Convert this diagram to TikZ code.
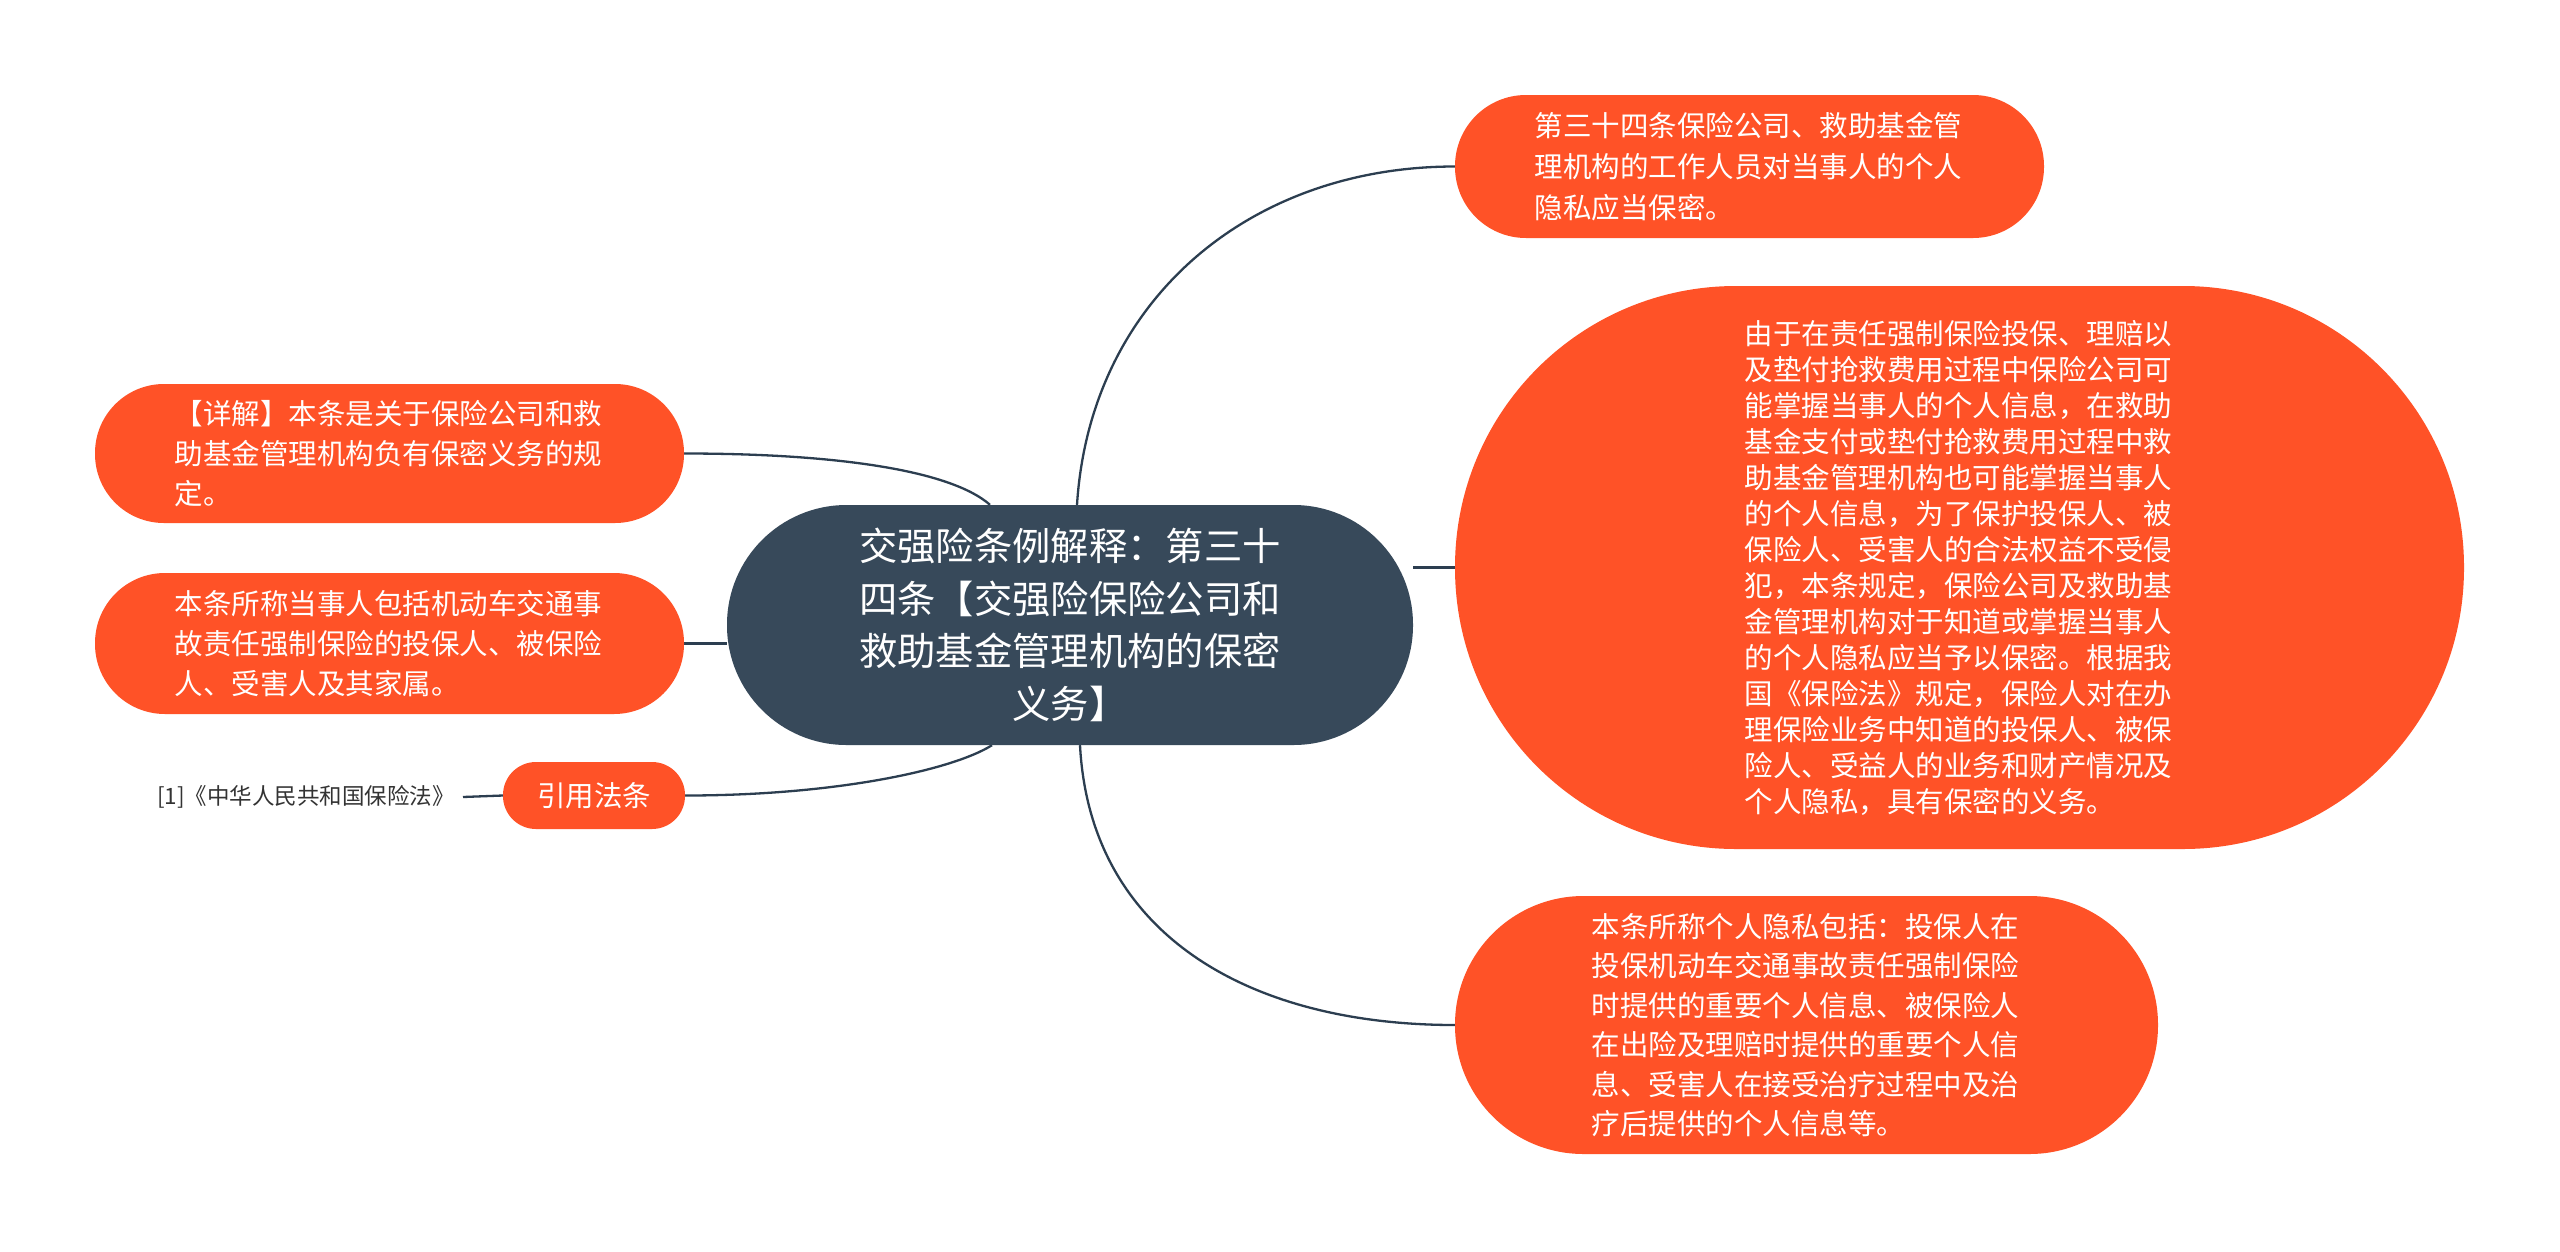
\documentclass[tikz,border=0pt]{standalone}
\usepackage{fontspec}
\setmainfont{Noto Sans CJK SC}
\usetikzlibrary{calc}
\definecolor{orangeF}{HTML}{FF5227}
\definecolor{darkF}{HTML}{37495A}
\definecolor{connC}{HTML}{2C3E50}
\definecolor{leafT}{HTML}{333333}
\pgfdeclarelayer{background}
\pgfsetlayers{background,main}
\tikzset{
  mainbox/.style={rectangle, fill=darkF, text=white, inner sep=0pt, align=center,
    minimum width=686pt, minimum height=240pt, rounded corners=119.5pt, text width=432pt,
    font=\fontsize{38.3pt}{52.7pt}\selectfont},
  topicbox/.style={rectangle, fill=orangeF, text=white, inner sep=0pt, align=left, text width=430pt},
  smallbox/.style={rectangle, fill=orangeF, text=white, inner sep=0pt, align=center,
    font=\fontsize{28.5pt}{36pt}\selectfont},
  conn/.style={draw=connC, line width=2.3pt},
  leaftext/.style={text=leafT, inner xsep=8pt, inner ysep=0pt, anchor=east,
    font=\fontsize{22.5pt}{27pt}\selectfont}
}
\begin{document}
\begin{tikzpicture}[x=1pt,y=-1pt]
\useasboundingbox (0,0) rectangle (2560,1251);

% central
\node[mainbox] (c) at (1070,625) {交强险条例解释：第三十\\四条【交强险保险公司和\\救助基金管理机构的保密\\义务】};

% right
\node[topicbox, minimum width=589pt, minimum height=143pt, rounded corners=71pt,
  font=\fontsize{28.5pt}{41pt}\selectfont] (r1) at (1749.5,166.5)
  {第三十四条保险公司、救助基金管\\理机构的工作人员对当事人的个人\\隐私应当保密。};
\node[topicbox, minimum width=1009pt, minimum height=563pt, rounded corners=281pt,
  font=\fontsize{28.5pt}{36pt}\selectfont] (r2) at (1959.5,567.5)
  {由于在责任强制保险投保、理赔以\\及垫付抢救费用过程中保险公司可\\能掌握当事人的个人信息，在救助\\基金支付或垫付抢救费用过程中救\\助基金管理机构也可能掌握当事人\\的个人信息，为了保护投保人、被\\保险人、受害人的合法权益不受侵\\犯，本条规定，保险公司及救助基\\金管理机构对于知道或掌握当事人\\的个人隐私应当予以保密。根据我\\国《保险法》规定，保险人对在办\\理保险业务中知道的投保人、被保\\险人、受益人的业务和财产情况及\\个人隐私，具有保密的义务。};
\node[topicbox, minimum width=703pt, minimum height=258pt, rounded corners=128.5pt,
  font=\fontsize{28.5pt}{39.5pt}\selectfont] (r3) at (1806.5,1025)
  {本条所称个人隐私包括：投保人在\\投保机动车交通事故责任强制保险\\时提供的重要个人信息、被保险人\\在出险及理赔时提供的重要个人信\\息、受害人在接受治疗过程中及治\\疗后提供的个人信息等。};

% left
\node[topicbox, minimum width=589pt, minimum height=139pt, rounded corners=69pt,
  font=\fontsize{28.5pt}{40pt}\selectfont] (l1) at (389.5,453.5)
  {【详解】本条是关于保险公司和救\\助基金管理机构负有保密义务的规\\定。};
\node[topicbox, minimum width=589pt, minimum height=141pt, rounded corners=70pt,
  font=\fontsize{28.5pt}{40pt}\selectfont] (l2) at (389.5,643.5)
  {本条所称当事人包括机动车交通事\\故责任强制保险的投保人、被保险\\人、受害人及其家属。};
\node[smallbox, minimum width=182pt, minimum height=67pt, rounded corners=33pt] (l3) at (594,795.5) {引用法条};
\node[leaftext] (leaf) at (463,797) {[1]《中华人民共和国保险法》};

% connectors (behind the nodes)
\begin{pgfonlayer}{background}
\fill[white] (0,0) rectangle (2560,1251);
\draw[conn] ($(c.north)+(7,0)$) .. controls +(13,-205) and +(-205,0) .. (r1.west);
\draw[conn] (r2.west) -- (r2.west -| c.east);
\draw[conn] ($(c.south)+(10,0)$) .. controls +(10,190) and +(-205,0) .. (r3.west);
\draw[conn] ($(c.north)+(-80,0)$) .. controls +(-40,-35) and +(150,0) .. (l1.east);
\draw[conn] (l2.east) -- (l2.east -| c.west);
\draw[conn] ($(c.south)+(-78,0)$) .. controls +(-40,25) and +(150,0) .. (l3.east);
\draw[conn] (l3.west) -- (leaf.east);
\end{pgfonlayer}
\end{tikzpicture}
\end{document}
